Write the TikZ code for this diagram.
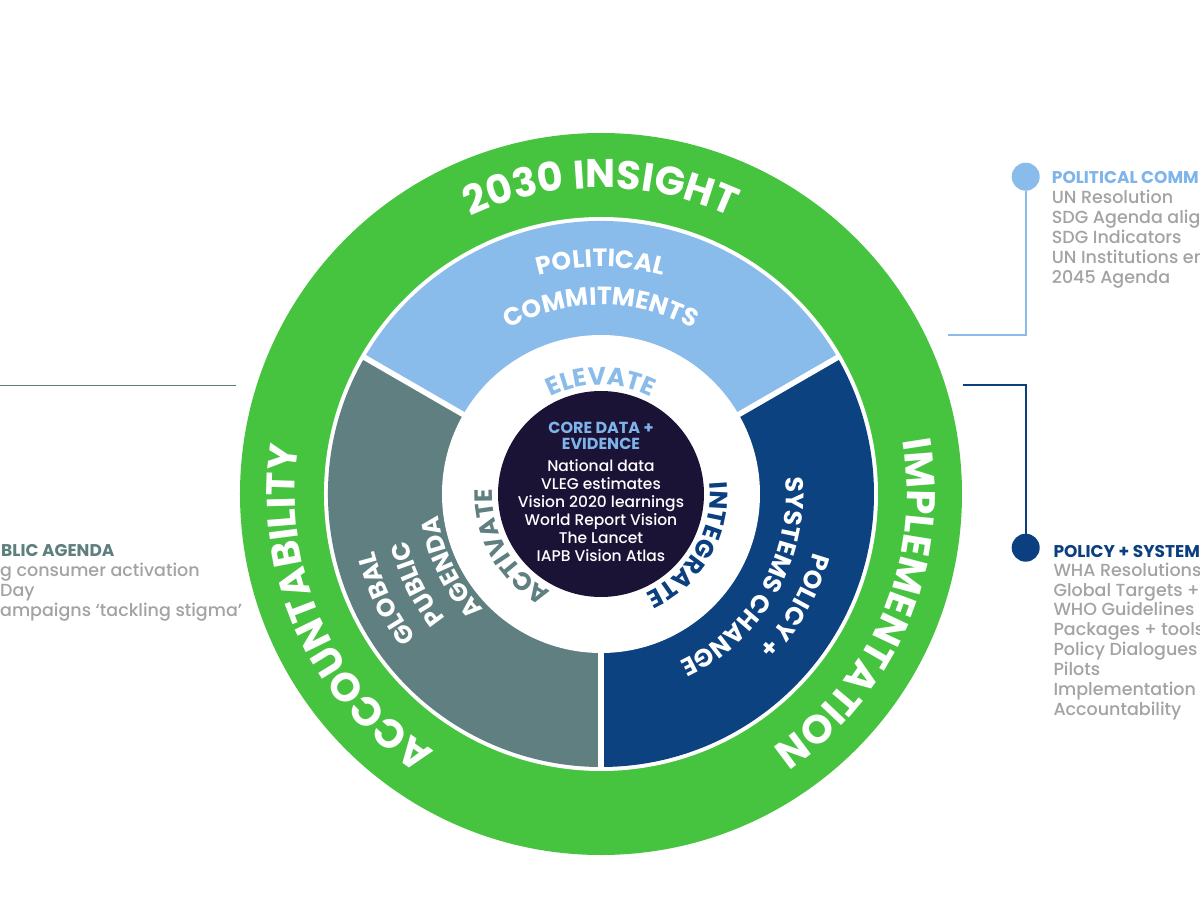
\documentclass[tikz,border=0pt]{standalone}
\usepackage{fontspec}
\setmainfont{Poppins}
\newfontfamily\pmed{Poppins Medium}
\usetikzlibrary{decorations.text}
\definecolor{ringgreen}{HTML}{46C43F}
\definecolor{lblue}{HTML}{89BBEB}
\definecolor{tealgray}{HTML}{607F80}
\definecolor{dblue}{HTML}{0B427F}
\definecolor{coredark}{HTML}{1B1336}
\definecolor{sidegray}{HTML}{A3A3A3}
\definecolor{titleteal}{HTML}{5E7F7E}
\definecolor{titleblue}{HTML}{0B3F7F}
\definecolor{titlelight}{HTML}{7FB4EA}
\newcommand\ringfmt{\fontsize{40}{40}\selectfont\bfseries\color{white}}
\newcommand\segfmt{\fontsize{25}{25}\selectfont\bfseries\color{white}}
\newcommand\elevfmt{\fontsize{25}{25}\selectfont\bfseries\color{lblue}}
\newcommand\actfmt{\fontsize{25}{25}\selectfont\bfseries\color{tealgray}}
\newcommand\intfmt{\fontsize{25}{25}\selectfont\bfseries\color{titleblue}}
% #1 format, #2 text, #3 centre angle, #4 radius (baseline)
\newcommand\arctext[4]{%
  \path[decorate,decoration={text along path,text align=center,text={|#1|#2}}]
    (#3+70:#4) arc[start angle=#3+70, end angle=#3-70, radius=#4];}
\tikzset{
  coretitle/.style={font=\fontsize{16}{16}\selectfont\bfseries, text=titlelight, inner sep=0, anchor=base},
  coreline/.style={font=\pmed\fontsize{15.5}{15.5}\selectfont, text=white, inner sep=0, anchor=base},
  sidetitle/.style={font=\fontsize{17}{17}\selectfont\bfseries, inner sep=0, anchor=base west},
  sidebody/.style={font=\pmed\fontsize{17.5}{17.5}\selectfont, text=sidegray, inner sep=0, anchor=base west},
  dotnode/.style={circle, minimum size=28, inner sep=0},
  link/.style={line width=1.6}
}
\begin{document}
\begin{tikzpicture}[x=1pt,y=1pt]
\useasboundingbox (-601,-406) rectangle (599,494);
\clip (-601,-406) rectangle (599,494);
\fill[white] (-601,-406) rectangle (599,494);
% rings
\fill[ringgreen] (0,0) circle[radius=361];
\fill[white] (0,0) circle[radius=277];
\fill[lblue] (0,0) -- (30:273) arc[start angle=30,end angle=150,radius=273] -- cycle;
\fill[tealgray] (0,0) -- (150:273) arc[start angle=150,end angle=270,radius=273] -- cycle;
\fill[dblue] (0,0) -- (270:273) arc[start angle=270,end angle=390,radius=273] -- cycle;
\foreach \a in {30,150,270} \draw[white, line width=5.5] (0,0) -- (\a:275);
\fill[white] (0,0) circle[radius=159];
\node[circle, fill=coredark, minimum size=206, inner sep=0] (core) at (0,0) {};
% green ring texts
\arctext{\ringfmt}{2030 INSIGHT}{90}{306}
\arctext{\ringfmt}{ACCOUNTABILITY}{204}{306}
\arctext{\ringfmt}{IMPLEMENTATION}{-23}{306}
% segment texts
\arctext{\segfmt}{POLITICAL}{90}{227}
\arctext{\segfmt}{COMMITMENTS}{90}{189}
\arctext{\segfmt}{POLICY +}{-30}{220}
\arctext{\segfmt}{SYSTEMS CHANGE}{-30}{185}
\arctext{\segfmt}{GLOBAL}{206}{234}
\arctext{\segfmt}{PUBLIC}{206}{199}
\arctext{\segfmt}{AGENDA}{206}{164}
% inner ring texts
\arctext{\elevfmt}{ELEVATE}{90}{109}
\arctext{\actfmt}{ACTIVATE}{210}{109}
\arctext{\intfmt}{INTEGRATE}{-30}{109}
% core texts
\node[coretitle] (ct1) at (0,60.7) {CORE DATA +};
\node[coretitle] (ct2) at (0,45) {EVIDENCE};
\foreach \t [count=\i] in {National data,VLEG estimates,Vision 2020 learnings,World Report Vision,The Lancet,IAPB Vision Atlas}
  \node[coreline] (cl\i) at (0,{22.6-18*(\i-1)}) {\t};
% political commitments callout
\node[dotnode, fill=lblue] (pdot) at (424.7,317.3) {};
\coordinate (pcA) at (424.7,159);
\coordinate (pcB) at (347,159);
\draw[link, lblue] (pdot) -- (pcA) -- (pcB);
\node[sidetitle, text=titlelight] (pt) at (450.7,310) {POLITICAL COMM};
\foreach \t [count=\i] in {UN Resolution,SDG Agenda align,SDG Indicators,UN Institutions en,2045 Agenda}
  \node[sidebody] (pb\i) at (450.7,{290.2-20*(\i-1)}) {\t};
% policy callout
\node[dotnode, fill=titleblue] (sdot) at (424.7,-53.7) {};
\coordinate (scA) at (424.7,109);
\coordinate (scB) at (362.3,109);
\draw[link, titleblue] (scB) -- (scA) -- (sdot);
\node[sidetitle, text=titleblue] (st) at (452.3,-63) {POLICY + SYSTEM};
\foreach \t [count=\i] in {WHA Resolutions,Global Targets + I,WHO Guidelines,Packages + tools,Policy Dialogues,Pilots,Implementation,Accountability}
  \node[sidebody] (sb\i) at (452.3,{-82.1-19.9*(\i-1)}) {\t};
% public agenda callout
\coordinate (gA) at (-605,108.3);
\coordinate (gB) at (-365,108.3);
\draw[link, titleteal] (gA) -- (gB);
\node[sidetitle, text=titleteal] (gt) at (-600,-62) {BLIC AGENDA};
\foreach \t [count=\i] in {g consumer activation,Day,ampaigns ‘tackling stigma’}
  \node[sidebody] (gb\i) at (-601,{-82-20.3*(\i-1)}) {\t};
\end{tikzpicture}
\end{document}
